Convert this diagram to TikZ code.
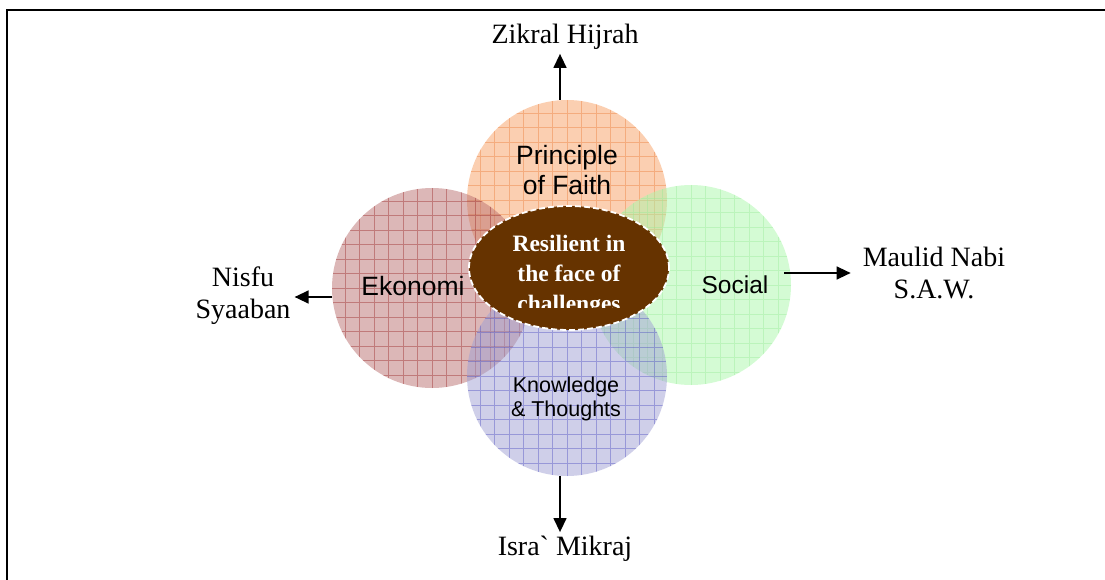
\documentclass[tikz,border=0pt]{standalone}
\usepackage{fontspec}
\setmainfont{Liberation Serif}
\newfontfamily\arialfont{Liberation Sans}
\usetikzlibrary{positioning,shapes.geometric,arrows.meta}

\definecolor{faithfill}{RGB}{248,160,100}
\definecolor{faithgrid}{RGB}{235,120,50}
\definecolor{ekofill}{RGB}{185,112,112}
\definecolor{ekogrid}{RGB}{150,30,30}
\definecolor{socialfill}{RGB}{170,248,170}
\definecolor{socialgrid}{RGB}{150,235,150}
\definecolor{knowfill}{RGB}{160,160,212}
\definecolor{knowgrid}{RGB}{70,70,190}
\definecolor{corebrown}{RGB}{102,51,0}

\tikzset{
  pillar/.style 2 args={circle, minimum size=200pt, inner sep=0pt, fill=#1, fill opacity=0.5,
    path picture={\draw[#2, draw opacity=0.4, line width=0.5pt, step=14.5pt]
      (path picture bounding box.south west) grid (path picture bounding box.north east);}},
  pillarlabel/.style 2 args={font=\arialfont\fontsize{#1}{#2}\selectfont, align=center, inner sep=0pt},
  event/.style={font=\fontsize{28}{32}\selectfont, align=center, inner sep=4pt},
  arr/.style={line width=1.4pt, -{Triangle[length=14pt,width=13pt]}}
}

\begin{document}
\begin{tikzpicture}[x=1pt,y=-1pt]
\useasboundingbox (0,0) rectangle (1105,580);
\draw[line width=2pt] (7,10) rectangle (1120,600);

\node[pillar={faithfill}{faithgrid}] (faith) at (567,200) {};
\node[pillar={ekofill}{ekogrid}] (eko) at (432,288) {};
\node[pillar={socialfill}{socialgrid}] (social) at (691,285) {};
\node[pillar={knowfill}{knowgrid}] (know) at (567,376) {};

\node[pillarlabel={26.5}{30}] (faithtext) at (567,170) {Principle\\of Faith};
\node[pillarlabel={26.5}{30}] (ekotext) at (413,286) {Ekonomi};
\node[pillarlabel={24.5}{28}] (socialtext) at (735,285) {Social};
\node[pillarlabel={21.5}{24}] (knowtext) at (566,399) {Knowledge\\\& Thoughts};

\node[ellipse, minimum width=200pt, minimum height=124pt, fill=corebrown, draw=white, dashed, dash pattern=on 6pt off 3pt, line width=1.8pt] (core) at (569,268) {};
\begin{scope}
  \clip (core.west |- core.north) rectangle (core.east |- 0,307);
  \node[text=white, font=\bfseries\fontsize{23.5}{30}\selectfont, align=center] (resilient) at (569,276) {Resilient in\\the face of\\challenges};
\end{scope}

\node[event] (zikral) at (565,37) {Zikral Hijrah};
\node[event] (nisfu) at (243,296) {Nisfu\\Syaaban};
\node[event] (maulid) at (934,273) {Maulid Nabi\\S.A.W.};
\node[event] (isra) at (565,549) {Isra\textasciigrave{} Mikraj};

\draw[arr] ([xshift=-7pt]faith.north) -- ([xshift=-7pt]faith.north |- zikral.south);
\draw[arr] ([yshift=-9pt]eko.west) -- ([yshift=-9pt]eko.west -| nisfu.east);
\draw[arr] ([xshift=-7pt]social.east |- maulid.west) -- ([xshift=-8pt]maulid.west);
\draw[arr] ([xshift=-7pt]know.south) -- ([xshift=-7pt]know.south |- isra.north);
\end{tikzpicture}
\end{document}
